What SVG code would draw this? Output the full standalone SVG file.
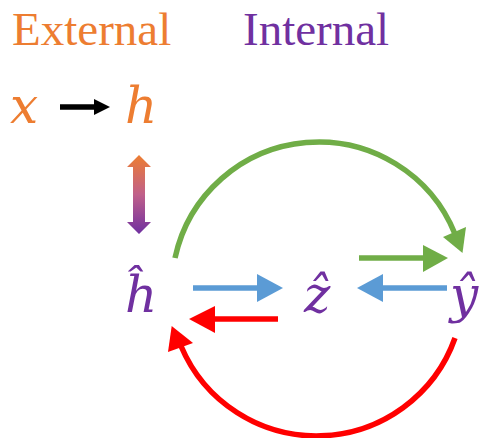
<svg xmlns="http://www.w3.org/2000/svg" width="487" height="438" viewBox="0 0 487 438">
<defs>
<linearGradient id="gr" gradientUnits="userSpaceOnUse" x1="0" y1="155" x2="0" y2="234">
<stop offset="0" stop-color="#ED7D31"/>
<stop offset="0.5" stop-color="#C0608A"/>
<stop offset="1" stop-color="#7030A0"/>
</linearGradient>
</defs>
<style>
.title{font-family:"Liberation Serif",serif;font-size:47px}
.math{font-family:"DejaVu Serif",serif;font-style:italic;font-size:50px}
.or{fill:#ED7D31}
.pu{fill:#7030A0}
.ln{fill:none;stroke-width:5.5}
.g{stroke:#70AD47}.gf{fill:#70AD47}
.b{stroke:#5B9BD5}.bf{fill:#5B9BD5}
.r{stroke:#FF0000}.rf{fill:#FF0000}
.k{stroke:#000}.kf{fill:#000}
</style>
<rect width="487" height="438" fill="#fff"/>
<g id="labels">
<text class="title or" x="12" y="45">External</text>
<text class="title pu" x="243" y="45">Internal</text>
</g>
<g id="node-x"><text class="math or" x="10" y="123">x</text></g>
<g id="node-h"><text class="math or" x="125" y="123">h</text></g>
<g id="node-hhat"><text class="math pu" x="125" y="312">ĥ</text></g>
<g id="node-zhat"><text class="math pu" x="304" y="312">ẑ</text></g>
<g id="node-yhat"><text class="math pu" x="450" y="312">ŷ</text></g>
<g id="connectors">
<line class="ln k" x1="60" y1="107" x2="96" y2="107"/>
<polygon class="kf" points="94,99 110,107 94,115"/>
<polygon fill="url(#gr)" points="139,155 127,167 133,167 133,222 127,222 139,234 151,222 145,222 145,167 151,167"/>
<line class="ln b" x1="193" y1="288" x2="259" y2="288"/>
<polygon class="bf" points="257,274 283,288 257,302"/>
<line class="ln b" x1="447" y1="288" x2="381" y2="288"/>
<polygon class="bf" points="383,274 357,288 383,302"/>
<line class="ln g" x1="359" y1="258" x2="425" y2="258"/>
<polygon class="gf" points="423,245 448,258 423,272"/>
<line class="ln r" x1="278" y1="319" x2="213" y2="319"/>
<polygon class="rf" points="215,306 189,319 215,333"/>
<path class="ln g" d="M175,258 A147,147 0 0 1 455,234"/>
<polygon class="gf" points="443,237 466,227 462.5,253"/>
<path class="ln r" d="M455,338 A147,147 0 0 1 181,346"/>
<polygon class="rf" points="168,352 193,343 171.7,326"/>
</g>
</svg>
